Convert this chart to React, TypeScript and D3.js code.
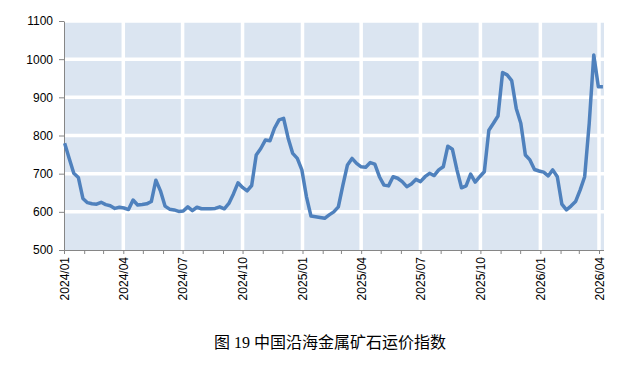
import { useRef, useEffect } from 'react';
import * as d3 from 'd3';

// weekly index readings, one array per year (first week of each year given)
const start2024 = '2024-01-02';
const values2024 = [
  780, 740, 701, 690, 635, 624, 621, 620, 625, 619, 616, 609, 612, 610, 606, 631,
  618, 619, 621, 627, 683, 655, 615, 607, 605, 601, 602, 613, 603, 612, 608, 608,
  608, 609, 613, 608, 622, 647, 676, 664, 655, 669, 749, 766, 788, 786, 819, 841,
  845, 793, 753, 740, 710,
];
const start2025 = '2025-01-07';
const values2025 = [
  640, 589, 587, 585, 583, 592, 600, 613, 670, 723, 740, 727, 718, 717, 729, 725,
  692, 670, 668, 692, 688, 679, 666, 673, 685, 679, 692, 701, 695, 710, 718, 772,
  764, 710, 663, 668, 699, 678, 692, 705, 814, 832, 851, 965, 959, 944, 871, 832,
  749, 736, 711, 707,
];
const start2026 = '2026-01-06';
const values2026 = [704, 694, 710, 692, 620, 605, 615, 627, 657, 692, 832, 1011, 928, 928];

const yTicks = [500, 600, 700, 800, 900, 1000, 1100];
const xLabels = ['2024/01', '2024/04', '2024/07', '2024/10', '2025/01', '2025/04', '2025/07', '2025/10', '2026/01', '2026/04'];
const title = '图 19 中国沿海金属矿石运价指数';

const Chart = () => {
  const ref = useRef(null);

  useEffect(() => {
    const svg = d3.select(ref.current);
    svg.selectAll('*').remove();

    const parse = d3.timeParse('%Y-%m-%d');
    const parseMonth = d3.timeParse('%Y/%m');
    const toPoints = (s, vals) => vals.map((v, i) => ({ date: d3.timeDay.offset(parse(s), i * 7), value: v }));
    const data = [
      ...toPoints(start2024, values2024),
      ...toPoints(start2025, values2025),
      ...toPoints(start2026, values2026),
    ];

    const left = 64, right = 604, top = 21, bottom = 250;
    const x = d3.scaleTime()
      .domain([parseMonth(xLabels[0]), parseMonth(xLabels[xLabels.length - 1])])
      .range([left, 599]);
    const y = d3.scaleLinear().domain([500, 1100]).range([bottom, top]);

    svg.append('rect')
      .attr('x', left).attr('y', top)
      .attr('width', right - left).attr('height', bottom - top)
      .attr('fill', '#dbe5f1');

    // white grid
    svg.append('g').selectAll('line')
      .data(yTicks.slice(1))
      .enter().append('line')
      .attr('x1', left).attr('x2', right)
      .attr('y1', d => y(d)).attr('y2', d => y(d))
      .attr('stroke', '#fff').attr('stroke-width', 3.5);
    svg.append('g').selectAll('line')
      .data(xLabels.slice(1))
      .enter().append('line')
      .attr('x1', d => x(parseMonth(d))).attr('x2', d => x(parseMonth(d)))
      .attr('y1', top).attr('y2', bottom)
      .attr('stroke', '#fff').attr('stroke-width', 3.5);

    // y axis
    const yAxis = svg.append('g')
      .attr('transform', `translate(${left},0)`)
      .call(d3.axisLeft(y).tickValues(yTicks).tickFormat(d3.format('d')).tickSize(5).tickPadding(6).tickSizeOuter(0));
    yAxis.select('.domain').attr('stroke', '#868686');
    yAxis.selectAll('line').attr('stroke', '#868686');
    yAxis.selectAll('text')
      .attr('fill', '#000')
      .style('font-family', 'Liberation Sans, Arial, sans-serif')
      .style('font-size', '12px');

    // x axis: monthly ticks, quarterly labels
    const months = d3.timeMonth.range(x.domain()[0], d3.timeMonth.offset(x.domain()[1], 1));
    const fmt = d3.timeFormat('%Y/%m');
    const xAxis = svg.append('g')
      .attr('transform', `translate(0,${bottom})`)
      .call(d3.axisBottom(x).tickValues(months).tickSize(4).tickSizeOuter(0)
        .tickFormat(d => (xLabels.includes(fmt(d)) ? fmt(d) : '')));
    xAxis.select('.domain').attr('d', `M${left},0.5H${right}`).attr('stroke', '#868686');
    xAxis.selectAll('line').attr('stroke', '#868686');
    xAxis.selectAll('text')
      .attr('fill', '#000')
      .attr('transform', 'rotate(-90)')
      .attr('x', -7).attr('y', 0).attr('dy', '0.35em')
      .style('text-anchor', 'end')
      .style('font-family', 'Liberation Sans, Arial, sans-serif')
      .style('font-size', '12px');

    const line = d3.line().x(d => x(d.date)).y(d => y(d.value));
    svg.append('path')
      .datum(data)
      .attr('d', line)
      .attr('fill', 'none')
      .attr('stroke', '#4f81bd')
      .attr('stroke-width', 3.5)
      .attr('stroke-linejoin', 'round');

    svg.append('text')
      .attr('x', 330).attr('y', 348)
      .attr('text-anchor', 'middle')
      .style('font-family', 'Liberation Serif, Noto Sans CJK SC, serif')
      .style('font-size', '16px')
      .attr('fill', '#000')
      .text(title);
  }, []);

  return <svg ref={ref} width={636} height={367} style={{ position: 'absolute', left: 0, top: 0, background: '#fff' }}></svg>;
};

export default function App() {
  return <Chart />;
}
